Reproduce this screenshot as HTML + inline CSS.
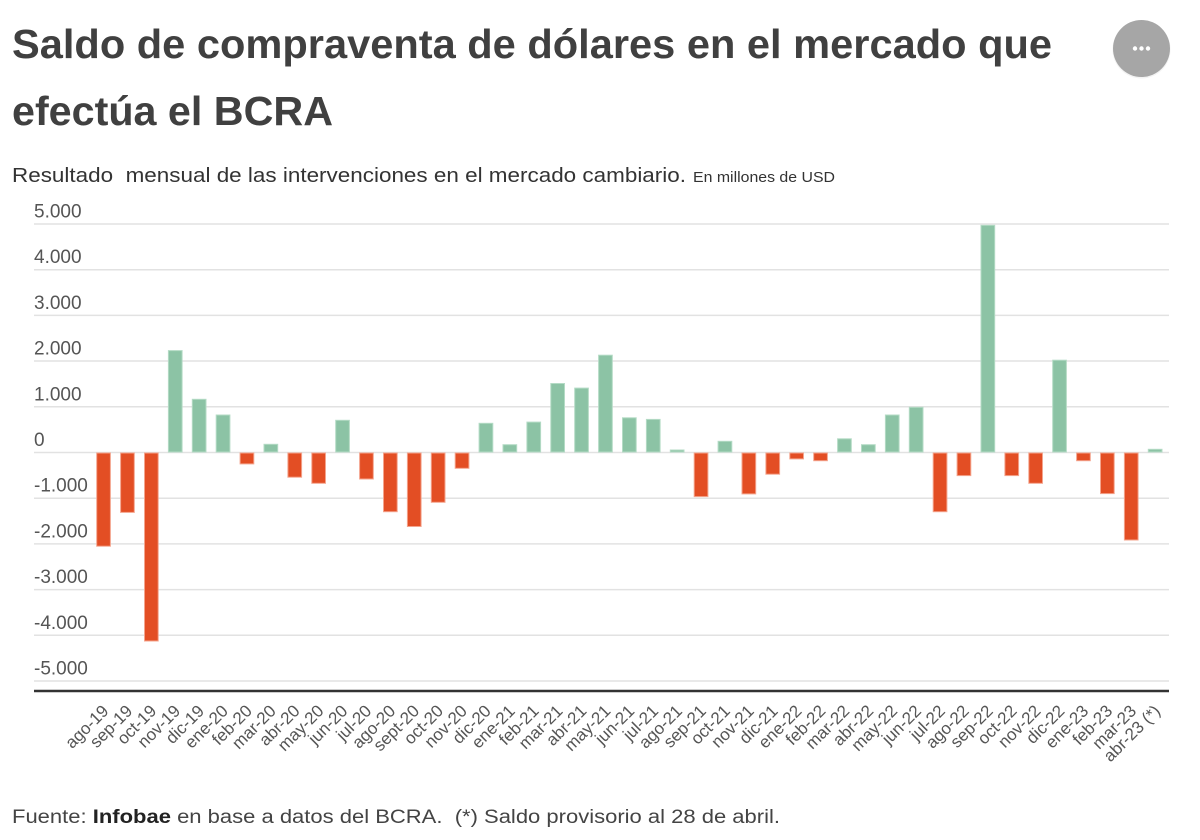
<!DOCTYPE html>
<html>
<head>
<meta charset="utf-8">
<style>
  html,body{margin:0;padding:0;background:#fff;}
  body{width:1200px;height:840px;overflow:hidden;}
  svg{display:block;}
  .t{font-family:"Liberation Sans",Arial,sans-serif;}
</style>
</head>
<body>
<svg width="1200" height="840" viewBox="0 0 1200 840" xmlns="http://www.w3.org/2000/svg">
  <rect x="0" y="0" width="1200" height="840" fill="#fff"/>
  <!-- Title -->
  <text class="t" x="12" y="58" font-size="41" font-weight="bold" fill="#404040" textLength="1040" lengthAdjust="spacingAndGlyphs">Saldo de compraventa de dólares en el mercado que</text>
  <text class="t" x="12" y="125" font-size="41" font-weight="bold" fill="#404040" textLength="321" lengthAdjust="spacingAndGlyphs">efectúa el BCRA</text>
  <!-- More button -->
  <circle cx="1141.5" cy="49.5" r="29" fill="#e8e8e8" opacity="0.5"/>
  <circle cx="1141.5" cy="48.5" r="28.5" fill="#a6a6a6"/>
  <circle cx="1135" cy="48.5" r="2.2" fill="#fff"/>
  <circle cx="1141.5" cy="48.5" r="2.2" fill="#fff"/>
  <circle cx="1148" cy="48.5" r="2.2" fill="#fff"/>
  <!-- Subtitle -->
  <text class="t" x="12" y="182" font-size="20.5" fill="#333" textLength="674" lengthAdjust="spacingAndGlyphs" xml:space="preserve">Resultado  mensual de las intervenciones en el mercado cambiario.</text>
  <text class="t" x="693" y="182" font-size="14.5" fill="#333" textLength="142" lengthAdjust="spacingAndGlyphs">En millones de USD</text>

  <!-- Gridlines -->
  <g stroke="#e2e2e2" stroke-width="1.5">
    <line x1="34" x2="1169" y1="224" y2="224"/>
    <line x1="34" x2="1169" y1="269.7" y2="269.7"/>
    <line x1="34" x2="1169" y1="315.4" y2="315.4"/>
    <line x1="34" x2="1169" y1="361" y2="361"/>
    <line x1="34" x2="1169" y1="406.8" y2="406.8"/>
    <line x1="34" x2="1169" y1="452.5" y2="452.5"/>
    <line x1="34" x2="1169" y1="498.2" y2="498.2"/>
    <line x1="34" x2="1169" y1="543.9" y2="543.9"/>
    <line x1="34" x2="1169" y1="589.6" y2="589.6"/>
    <line x1="34" x2="1169" y1="635.3" y2="635.3"/>
    <line x1="34" x2="1169" y1="681" y2="681"/>
  </g>
  <!-- Y labels -->
  <g class="t" font-size="19" fill="#555">
    <text x="34" y="217.5">5.000</text>
    <text x="34" y="263.2">4.000</text>
    <text x="34" y="308.9">3.000</text>
    <text x="34" y="354.5">2.000</text>
    <text x="34" y="400.3">1.000</text>
    <text x="34" y="446">0</text>
    <text x="34" y="491.7">-1.000</text>
    <text x="34" y="537.4">-2.000</text>
    <text x="34" y="583.1">-3.000</text>
    <text x="34" y="628.8">-4.000</text>
    <text x="34" y="674.5">-5.000</text>
  </g>
  <!-- Axis line -->
  <line x1="34" x2="1169" y1="691" y2="691" stroke="#333" stroke-width="2.5"/>

  <!-- Bars negative (red) -->
  <g fill="#e34e24" stroke="#f4a48d" stroke-width="1">
    <rect x="96.7" y="453" width="13.7" height="93.2"/>
    <rect x="120.6" y="453" width="13.7" height="59.4"/>
    <rect x="144.5" y="453" width="13.7" height="188"/>
    <rect x="240.1" y="453" width="13.7" height="10.9"/>
    <rect x="287.9" y="453" width="13.7" height="24.2"/>
    <rect x="311.8" y="453" width="13.7" height="30.3"/>
    <rect x="359.6" y="453" width="13.7" height="26"/>
    <rect x="383.5" y="453" width="13.7" height="58.7"/>
    <rect x="407.4" y="453" width="13.7" height="73.5"/>
    <rect x="431.3" y="453" width="13.7" height="49.3"/>
    <rect x="455.2" y="453" width="13.7" height="15.3"/>
    <rect x="694.2" y="453" width="13.7" height="43.6"/>
    <rect x="742.0" y="453" width="13.7" height="40.9"/>
    <rect x="765.9" y="453" width="13.7" height="21.2"/>
    <rect x="789.8" y="453" width="13.7" height="5.9"/>
    <rect x="813.7" y="453" width="13.7" height="7.7"/>
    <rect x="933.2" y="453" width="13.7" height="58.7"/>
    <rect x="957.1" y="453" width="13.7" height="22.6"/>
    <rect x="1004.9" y="453" width="13.7" height="22.6"/>
    <rect x="1028.8" y="453" width="13.7" height="30.3"/>
    <rect x="1076.6" y="453" width="13.7" height="7.7"/>
    <rect x="1100.5" y="453" width="13.7" height="40.6"/>
    <rect x="1124.4" y="453" width="13.7" height="87"/>
  </g>
  <!-- Bars positive (green) -->
  <g fill="#8cc3a5" stroke="#b4dbc5" stroke-width="1">
    <rect x="168.4" y="350.6" width="13.7" height="101.4"/>
    <rect x="192.3" y="399.3" width="13.7" height="52.7"/>
    <rect x="216.2" y="415.0" width="13.7" height="37"/>
    <rect x="264.0" y="444.3" width="13.7" height="7.7"/>
    <rect x="335.7" y="420.3" width="13.7" height="31.7"/>
    <rect x="479.1" y="423.3" width="13.7" height="28.7"/>
    <rect x="503.0" y="444.7" width="13.7" height="7.3"/>
    <rect x="526.9" y="422.1" width="13.7" height="29.9"/>
    <rect x="550.8" y="383.5" width="13.7" height="68.5"/>
    <rect x="574.7" y="388.1" width="13.7" height="63.9"/>
    <rect x="598.6" y="355.2" width="13.7" height="96.8"/>
    <rect x="622.5" y="417.8" width="13.7" height="34.2"/>
    <rect x="646.4" y="419.4" width="13.7" height="32.6"/>
    <rect x="670.3" y="450.0" width="13.7" height="2"/>
    <rect x="718.1" y="441.3" width="13.7" height="10.7"/>
    <rect x="837.6" y="438.8" width="13.7" height="13.2"/>
    <rect x="861.5" y="444.7" width="13.7" height="7.3"/>
    <rect x="885.4" y="415.0" width="13.7" height="37"/>
    <rect x="909.3" y="407.3" width="13.7" height="44.7"/>
    <rect x="981.0" y="225.3" width="13.7" height="226.7"/>
    <rect x="1052.7" y="360.2" width="13.7" height="91.8"/>
    <rect x="1148.3" y="449.3" width="13.7" height="2.7"/>
  </g>

  <!-- X labels -->
  <g class="t" font-size="17" fill="#555" text-anchor="end">
    <text transform="translate(109.6,712) rotate(-45)">ago-19</text>
    <text transform="translate(133.5,712) rotate(-45)">sep-19</text>
    <text transform="translate(157.4,712) rotate(-45)">oct-19</text>
    <text transform="translate(181.3,712) rotate(-45)">nov-19</text>
    <text transform="translate(205.2,712) rotate(-45)">dic-19</text>
    <text transform="translate(229.1,712) rotate(-45)">ene-20</text>
    <text transform="translate(253.0,712) rotate(-45)">feb-20</text>
    <text transform="translate(276.9,712) rotate(-45)">mar-20</text>
    <text transform="translate(300.8,712) rotate(-45)">abr-20</text>
    <text transform="translate(324.7,712) rotate(-45)">may-20</text>
    <text transform="translate(348.6,712) rotate(-45)">jun-20</text>
    <text transform="translate(372.5,712) rotate(-45)">jul-20</text>
    <text transform="translate(396.4,712) rotate(-45)">ago-20</text>
    <text transform="translate(420.3,712) rotate(-45)">sept-20</text>
    <text transform="translate(444.2,712) rotate(-45)">oct-20</text>
    <text transform="translate(468.1,712) rotate(-45)">nov-20</text>
    <text transform="translate(492.0,712) rotate(-45)">dic-20</text>
    <text transform="translate(515.9,712) rotate(-45)">ene-21</text>
    <text transform="translate(539.8,712) rotate(-45)">feb-21</text>
    <text transform="translate(563.7,712) rotate(-45)">mar-21</text>
    <text transform="translate(587.6,712) rotate(-45)">abr-21</text>
    <text transform="translate(611.5,712) rotate(-45)">may-21</text>
    <text transform="translate(635.4,712) rotate(-45)">jun-21</text>
    <text transform="translate(659.3,712) rotate(-45)">jul-21</text>
    <text transform="translate(683.2,712) rotate(-45)">ago-21</text>
    <text transform="translate(707.1,712) rotate(-45)">sep-21</text>
    <text transform="translate(731.0,712) rotate(-45)">oct-21</text>
    <text transform="translate(754.9,712) rotate(-45)">nov-21</text>
    <text transform="translate(778.8,712) rotate(-45)">dic-21</text>
    <text transform="translate(802.7,712) rotate(-45)">ene-22</text>
    <text transform="translate(826.6,712) rotate(-45)">feb-22</text>
    <text transform="translate(850.5,712) rotate(-45)">mar-22</text>
    <text transform="translate(874.4,712) rotate(-45)">abr-22</text>
    <text transform="translate(898.3,712) rotate(-45)">may-22</text>
    <text transform="translate(922.2,712) rotate(-45)">jun-22</text>
    <text transform="translate(946.1,712) rotate(-45)">jul-22</text>
    <text transform="translate(970.0,712) rotate(-45)">ago-22</text>
    <text transform="translate(993.9,712) rotate(-45)">sep-22</text>
    <text transform="translate(1017.8,712) rotate(-45)">oct-22</text>
    <text transform="translate(1041.7,712) rotate(-45)">nov-22</text>
    <text transform="translate(1065.6,712) rotate(-45)">dic-22</text>
    <text transform="translate(1089.5,712) rotate(-45)">ene-23</text>
    <text transform="translate(1113.4,712) rotate(-45)">feb-23</text>
    <text transform="translate(1137.3,712) rotate(-45)">mar-23</text>
    <text transform="translate(1161.2,712) rotate(-45)">abr-23 (*)</text>
  </g>

  <!-- Footer -->
  <text class="t" x="12" y="823" font-size="19" fill="#444" textLength="768" lengthAdjust="spacingAndGlyphs" xml:space="preserve">Fuente: <tspan font-weight="bold" fill="#222">Infobae</tspan> en base a datos del BCRA.  (*) Saldo provisorio al 28 de abril.</text>
</svg>
</body>
</html>
